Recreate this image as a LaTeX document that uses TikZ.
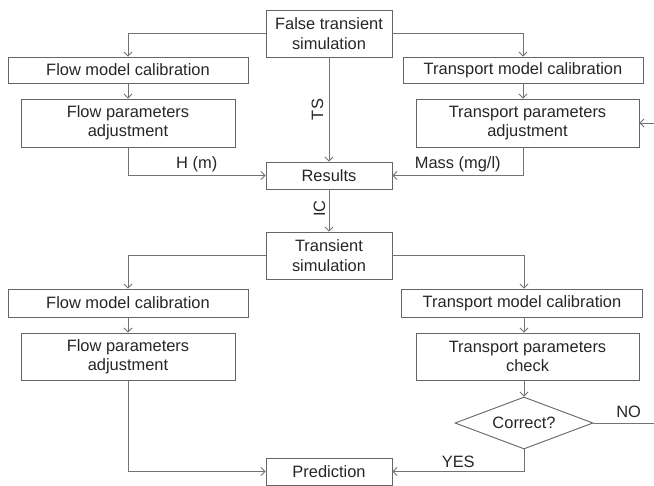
\documentclass[tikz,border=0pt]{standalone}
\usepackage{fontspec}
\setmainfont{Liberation Sans}
\usetikzlibrary{arrows.meta,shapes.geometric}

\begin{document}
\begin{tikzpicture}[
    x=1bp, y=-1bp,
    font=\fontsize{16.5}{19.5}\selectfont,
    every node/.style={text=black!85},
    box/.style={draw=black!60, line width=.9bp, align=center,
        inner sep=0pt, minimum height=#1},
    box/.default=26bp,
    decision/.style={draw=black!60, line width=.9bp, diamond, aspect=2.65,
        inner sep=0pt, minimum width=138bp, minimum height=52bp},
    link/.style={draw=black!55, line width=.9bp,
        -{Straight Barb[length=4bp,width=8bp]}},
    plain/.style={draw=black!55, line width=.9bp},
]

    \useasboundingbox (0,0) rectangle (654,486);

    \node [box=47bp, minimum width=126bp] (falsesim) at (329,33.5)
        {False transient\\simulation};
    \node [box, minimum width=240bp] (flowcal) at (128,70)
        {Flow model calibration};
    \node [box=48bp, minimum width=214bp] (flowadj) at (128,123)
        {Flow parameters\\adjustment};
    \node [box, minimum width=240bp] (transcal) at (523,70)
        {Transport model calibration};
    \node [box=48bp, minimum width=223bp] (transadj) at (527.5,123)
        {Transport parameters\\adjustment};
    \node [box=27bp, minimum width=126bp] (results) at (329,175.5)
        {Results};

    \node [box=47bp, minimum width=126bp] (transim) at (329,255.5)
        {Transient\\simulation};
    \node [box=28bp, minimum width=240bp] (flowcalb) at (128,303)
        {Flow model calibration};
    \node [box=47bp, minimum width=214bp] (flowadjb) at (128,356.5)
        {Flow parameters\\adjustment};
    \node [box=28bp, minimum width=241bp] (transcalb) at (522,303)
        {Transport model calibration};
    \node [box=47bp, minimum width=223bp] (transchk) at (527.5,356.5)
        {Transport parameters\\check};
    \node [decision] (correct) at (524,423) {Correct?};
    \node [box=27bp, minimum width=126bp] (prediction) at (329,471.5)
        {Prediction};

    \coordinate (loopin) at (654,123);
    \coordinate (loopout) at (654,423);

    \draw [link] (falsesim.west) -| (flowcal.north);
    \draw [link] (falsesim.east) -| (transcal.north);
    \draw [link] (flowcal) -- (flowadj);
    \draw [link] (transcal.south) -- (transcal.south |- transadj.north);
    \draw [link] (flowadj.south) |- node [above, pos=.75] {H (m)} (results.west);
    \draw [link] (transcal.south |- transadj.south) |- node [above, pos=.75] {Mass (mg/l)} (results.east);
    \draw [link] (falsesim) -- node [left=2bp, rotate=90, anchor=south] {TS} (results);
    \draw [link] (loopin) -- (transadj.east);

    \draw [link] (results) -- node [rotate=90, anchor=south, pos=.45] {IC} (transim);
    \draw [link] (transim.west) -| (flowcalb.north);
    \draw [link] (transim.east) -| (correct.north |- transcalb.north);
    \draw [link] (flowcalb) -- (flowadjb);
    \draw [link] (correct.north |- transcalb.south) -- (correct.north |- transchk.north);
    \draw [link] (correct.north |- transchk.south) -- (correct.north);
    \draw [link] (flowadjb.south) |- (prediction.west);
    \draw [link] (correct.south) |- node [above, pos=.75] {YES} (prediction.east);
    \draw [plain] (correct.east) -- node [above=2bp, pos=.58] {NO} (loopout);

\end{tikzpicture}
\end{document}
